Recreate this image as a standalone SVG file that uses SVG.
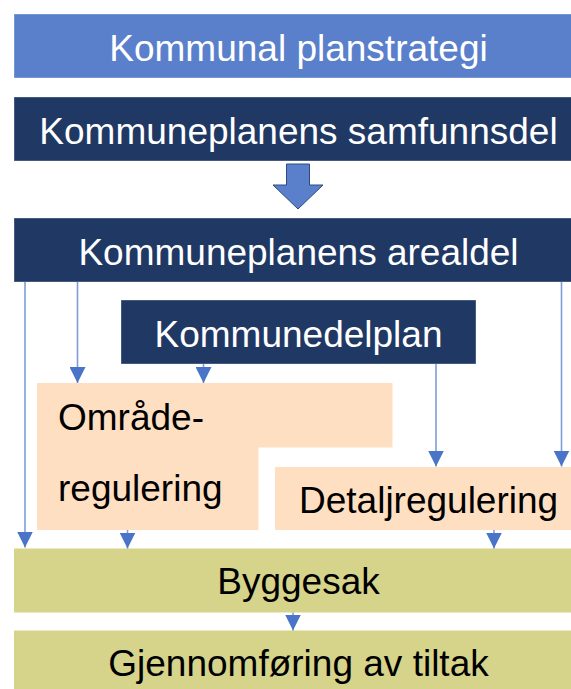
<svg xmlns="http://www.w3.org/2000/svg" width="571" height="689" viewBox="0 0 571 689">
  <style>
    text { font-family: "Liberation Sans", Arial, sans-serif; font-size: 37px; }
    .light { fill: #5A80CB; }
    .navy { fill: #203864; }
    .peach { fill: #FFDFC2; }
    .olive { fill: #D6D48A; }
    .edge { stroke: #ffffff; stroke-opacity: 0.35; stroke-width: 1; }
    .w { fill: #ffffff; }
    .b { fill: #000000; }
    .conn { stroke: #7E9DD8; stroke-width: 1.6; fill: none; marker-end: url(#ah); }
  </style>
  <defs>
    <marker id="ah" markerUnits="userSpaceOnUse" markerWidth="16" markerHeight="16" refX="16" refY="8" orient="auto" viewBox="0 0 16 16">
      <path d="M0,0 L16,8 L0,16 z" fill="#4A74C8"/>
    </marker>
  </defs>

  <g id="node-planstrategi">
    <rect x="14" y="14" width="570" height="64" class="light edge"/>
    <text x="298.5" y="61" text-anchor="middle" class="w">Kommunal planstrategi</text>
  </g>

  <g id="node-samfunnsdel">
    <rect x="14" y="97" width="570" height="64" class="navy edge"/>
    <text x="298.5" y="144" text-anchor="middle" class="w">Kommuneplanens samfunnsdel</text>
  </g>

  <g id="block-arrow">
    <polygon points="286.5,164 309.5,164 309.5,185 323,185 298,209 273,185 286.5,185" fill="#5A80CB" stroke="#2C4A80" stroke-width="1"/>
  </g>

  <g id="node-arealdel">
    <rect x="14" y="218" width="570" height="64" class="navy edge"/>
    <text x="298.5" y="265" text-anchor="middle" class="w">Kommuneplanens arealdel</text>
  </g>

  <g id="node-kommunedelplan">
    <rect x="121" y="300" width="355" height="64" class="navy edge"/>
    <text x="298.5" y="347" text-anchor="middle" class="w">Kommunedelplan</text>
  </g>

  <g id="node-omraderegulering">
    <path d="M37,383 H392.5 V447.5 H258.5 V530 H37 Z" class="peach"/>
    <text x="58" y="430" class="b">Område-</text>
    <text x="58" y="501" class="b">regulering</text>
  </g>

  <g id="node-detaljregulering">
    <rect x="275" y="467" width="300" height="63" class="peach"/>
    <text x="299" y="513" class="b">Detaljregulering</text>
  </g>

  <g id="node-byggesak">
    <rect x="14" y="548.5" width="570" height="64" class="olive"/>
    <text x="298.5" y="594" text-anchor="middle" class="b">Byggesak</text>
  </g>

  <g id="node-gjennomforing">
    <rect x="14" y="630.5" width="570" height="64" class="olive"/>
    <text x="298.5" y="676" text-anchor="middle" class="b">Gjennomføring av tiltak</text>
  </g>

  <g id="connectors">
    <line x1="25" y1="282" x2="25" y2="547.5" class="conn"/>
    <line x1="77.5" y1="282" x2="77.5" y2="383" class="conn"/>
    <line x1="203.5" y1="364" x2="203.5" y2="383" class="conn"/>
    <line x1="436" y1="364" x2="436" y2="466.5" class="conn"/>
    <line x1="561.5" y1="282" x2="561.5" y2="466.5" class="conn"/>
    <line x1="127.5" y1="530" x2="127.5" y2="548.5" class="conn"/>
    <line x1="494" y1="530" x2="494" y2="548.5" class="conn"/>
    <line x1="293" y1="612.5" x2="293" y2="630.5" class="conn"/>
  </g>
</svg>
